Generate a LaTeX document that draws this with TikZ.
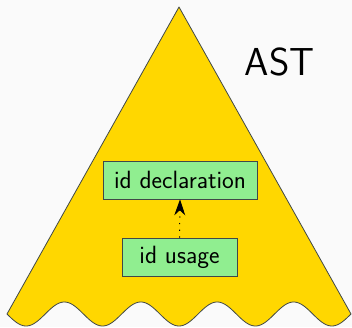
\documentclass[tikz,border=0pt]{standalone}
\usetikzlibrary{arrows.meta}
\definecolor{bgcol}{HTML}{FAFAFA}
\definecolor{treefill}{HTML}{FFD700}
\definecolor{boxfill}{HTML}{90EE90}
\definecolor{edgecol}{HTML}{404848}
\begin{document}
\begin{tikzpicture}[x=1pt,y=1pt,
  idbox/.style={draw=edgecol, line width=0.8pt, fill=boxfill, minimum height=38pt,
    inner sep=0pt, font=\sffamily\fontsize{25}{28}\selectfont},
  refarrow/.style={dash pattern=on 1.2pt off 5.5pt, line width=1pt,
    -{Stealth[length=16pt,width=11pt]}}]
  % canvas
  \fill[bgcol] (0,0) rectangle (352,327);
  \useasboundingbox (0,0) rectangle (352,327);
  % the tree: a triangle with a wavy, cut-off base
  \filldraw[fill=treefill, draw=edgecol, line width=0.8pt, line join=round]
    (7,13) -- (179,320) -- (351,13)
    -- plot[domain=351:7, samples=240, smooth] (\x, {13 - 12*sin(((\x-7)/76.44)*360)})
    -- cycle;
  \node[font=\sffamily\fontsize{39}{44}\selectfont] (ast) at (279.5,265) {AST};
  \node[idbox, minimum width=154pt] (decl) at (180,147) {id declaration};
  \node[idbox, minimum width=115pt] (use) at (179.5,70) {id usage};
  \draw[refarrow] (use.north) -- (decl.south);
\end{tikzpicture}
\end{document}
